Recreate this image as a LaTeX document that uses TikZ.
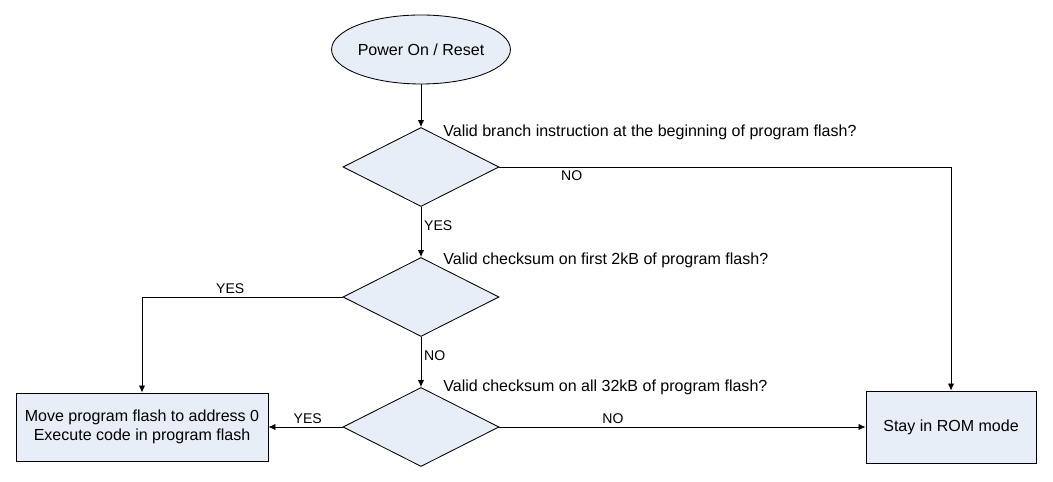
\documentclass[tikz,border=0pt]{standalone}
\usepackage{fontspec}
\setmainfont{Liberation Sans}
\usetikzlibrary{arrows.meta, positioning, shapes.geometric}
\definecolor{boxfill}{HTML}{E8EEF7}
\definecolor{ink}{HTML}{000000}

\begin{document}
\begin{tikzpicture}[>={Latex[length=5pt, width=4.5pt]}, line width=0.6pt,
  flowbox/.style={draw=ink, fill=boxfill, rectangle, inner sep=0pt, align=center, font=\fontsize{11.4}{14}\selectfont},
  decide/.style={draw=ink, fill=boxfill, diamond, inner sep=0pt, minimum width=3.9cm, minimum height=1.975cm},
  question/.style={anchor=west, inner sep=0pt, font=\fontsize{11.4}{14}\selectfont},
  answer/.style={font=\fontsize{10}{12}\selectfont, inner sep=2pt}]

% Canvas
\useasboundingbox (0,0) rectangle (26.325,12.05);

% Start
\node[flowbox, ellipse, minimum width=3.95cm, minimum height=1.725cm] (power) at (10.525,10.8125) {Power On / Reset};

% Decisions
\node[decide] (branch) at (10.525,7.875) {};
\node[decide] (first) at (10.525,4.625) {};
\node[decide] (all) at (10.525,1.375) {};

\node[question] (qbranch) at ([xshift=0.55cm, yshift=-0.12cm]branch.north) {Valid branch instruction at the beginning of program flash?};
\node[question] (qfirst) at ([xshift=0.55cm, yshift=-0.07cm]first.north) {Valid checksum on first 2kB of program flash?};
\node[question] (qall) at ([xshift=0.55cm, yshift=0cm]all.north) {Valid checksum on all 32kB of program flash?};

% Outcomes
\node[flowbox, minimum width=6.3cm, minimum height=1.7cm] (move) at (3.55,1.375)
  {Move program flash to address 0\\Execute code in program flash};
\node[flowbox, minimum width=4.25cm, minimum height=1.8cm] (rom) at (23.775,1.375) {Stay in ROM mode};

% Connectors
\draw[->] (power) -- (branch);
\draw[->] (branch) -- node[answer, right, pos=0.37] {YES} (first);
\draw[->] (branch.east) -| node[answer, below, pos=0.08] {NO} (rom.north);
\draw[->] (first.west) -| node[answer, above, pos=0.28] {YES} (move.north);
\draw[->] (first) -- node[answer, right, pos=0.37] {NO} (all);
\draw[->] (all.west) -- node[answer, above, pos=0.47] {YES} (move.east);
\draw[->] (all.east) -- node[answer, above, pos=0.31] {NO} (rom.west);

\end{tikzpicture}
\end{document}
